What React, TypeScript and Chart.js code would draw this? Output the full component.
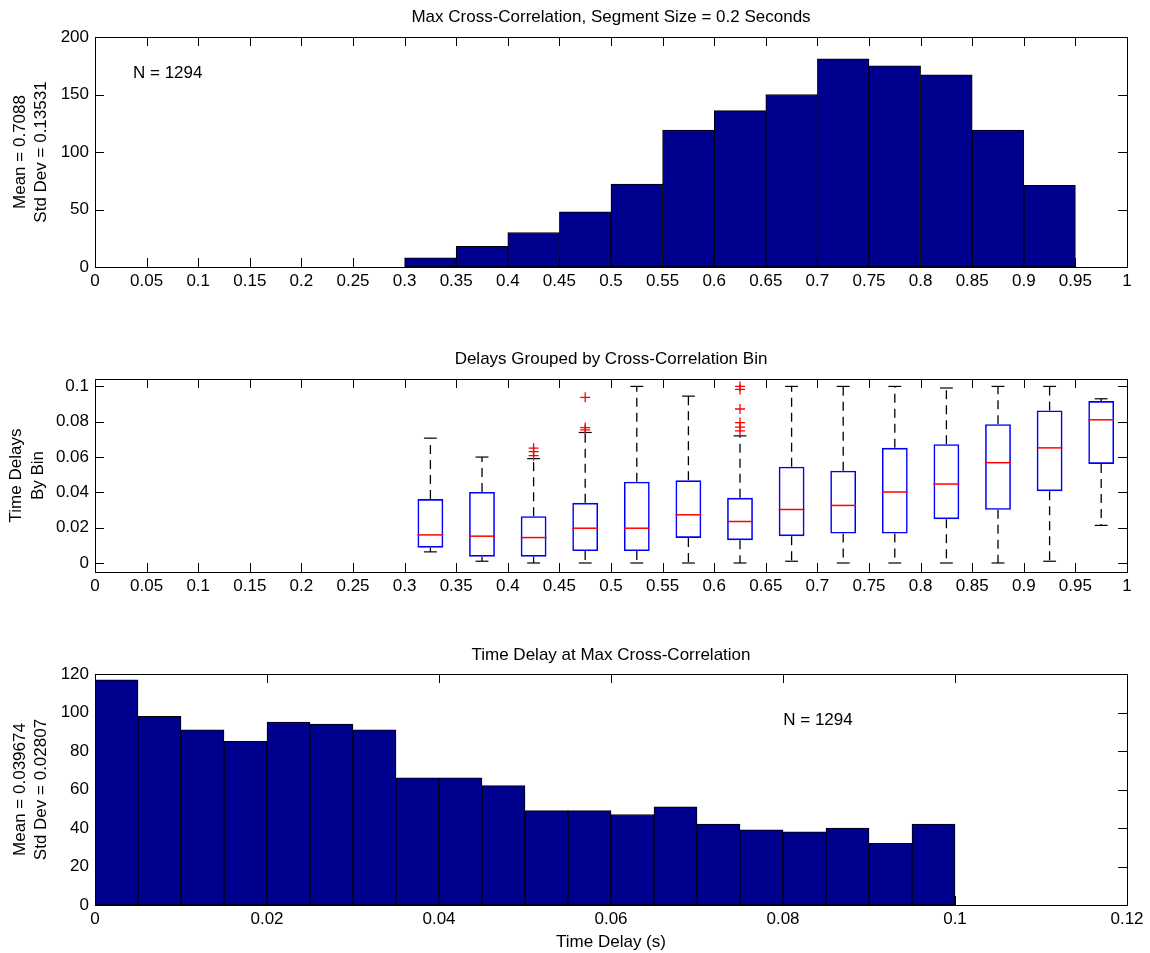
import React, { useEffect, useRef } from 'react';
import { Chart, registerables } from 'chart.js';

Chart.register(...registerables);

const FONT_FAMILY = '"Liberation Sans", Arial, Helvetica, sans-serif';
const FONT_SIZE = 17;
const INK = '#000000';
const BAR_FILL = '#00008F';
const BOX_BLUE = '#0000FF';
const MEDIAN_RED = '#FF0000';

const CANVAS_WIDTH = 1150;
const AREA_LEFT = 95;
const AREA_RIGHT = 1127;
const TICK_LEN = 9;

// ---------------- Panel 1: Max cross-correlation histogram ----------------
const corrTitle = 'Max Cross-Correlation, Segment Size = 0.2 Seconds';
const corrYLabel = ['Mean = 0.7088', 'Std Dev = 0.13531'];
const corrNote = 'N = 1294';
const corrBinWidth = 0.05;
const corrBinStarts = [0.3, 0.35, 0.4, 0.45, 0.5, 0.55, 0.6, 0.65, 0.7, 0.75, 0.8, 0.85, 0.9];
const corrCounts = [8, 18, 30, 48, 72, 119, 136, 150, 181, 175, 167, 119, 71];
const corrXTicks = [0, 0.05, 0.1, 0.15, 0.2, 0.25, 0.3, 0.35, 0.4, 0.45, 0.5, 0.55, 0.6, 0.65, 0.7, 0.75, 0.8, 0.85, 0.9, 0.95, 1];
const corrXTickLabels = ['0', '0.05', '0.1', '0.15', '0.2', '0.25', '0.3', '0.35', '0.4', '0.45', '0.5', '0.55', '0.6', '0.65', '0.7', '0.75', '0.8', '0.85', '0.9', '0.95', '1'];
const corrYTicks = [0, 50, 100, 150, 200];
const corrYTickLabels = ['0', '50', '100', '150', '200'];

// ---------------- Panel 2: Box plots of delays per correlation bin ----------------
const boxTitle = 'Delays Grouped by Cross-Correlation Bin';
const boxYLabel = ['Time Delays', 'By Bin'];
const boxWidth = 0.025;
const boxCenters = [0.325, 0.375, 0.425, 0.475, 0.525, 0.575, 0.625, 0.675, 0.725, 0.775, 0.825, 0.875, 0.925, 0.975];
const boxLower = [0.0063, 0.001, 0, 0, 0, 0, 0, 0.001, 0, 0, 0, 0, 0.001, 0.0213];
const boxQ1 = [0.0087, 0.0036, 0.0036, 0.0068, 0.0068, 0.0142, 0.0129, 0.0152, 0.0167, 0.0167, 0.0248, 0.0301, 0.0407, 0.0561];
const boxMedian = [0.0159, 0.0152, 0.0144, 0.0197, 0.0197, 0.0273, 0.0235, 0.0303, 0.0326, 0.0402, 0.0447, 0.0568, 0.0652, 0.0811];
const boxQ3 = [0.0362, 0.0402, 0.0265, 0.0341, 0.046, 0.0468, 0.0369, 0.0545, 0.0523, 0.0652, 0.0673, 0.0786, 0.0864, 0.0917];
const boxUpper = [0.0707, 0.06, 0.0591, 0.0739, 0.1, 0.0945, 0.072, 0.1, 0.1, 0.1, 0.0991, 0.1, 0.1, 0.093];
const outlierX = [0.425, 0.425, 0.425, 0.475, 0.475, 0.475, 0.625, 0.625, 0.625, 0.625, 0.625, 0.625];
const outlierY = [0.065, 0.0631, 0.0608, 0.0938, 0.0767, 0.0754, 0.1, 0.0983, 0.0872, 0.0795, 0.0769, 0.0748];
const boxXTicks = corrXTicks;
const boxXTickLabels = corrXTickLabels;
const boxYMin = -0.0051;
const boxYMax = 0.1042;
const boxYTicks = [0, 0.02, 0.04, 0.06, 0.08, 0.1];
const boxYTickLabels = ['0', '0.02', '0.04', '0.06', '0.08', '0.1'];

// ---------------- Panel 3: Time delay histogram ----------------
const delayTitle = 'Time Delay at Max Cross-Correlation';
const delayYLabel = ['Mean = 0.039674', 'Std Dev = 0.02807'];
const delayXLabel = 'Time Delay (s)';
const delayNote = 'N = 1294';
const delayBinWidth = 0.005;
const delayBinStarts = [0, 0.005, 0.01, 0.015, 0.02, 0.025, 0.03, 0.035, 0.04, 0.045, 0.05, 0.055, 0.06, 0.065, 0.07, 0.075, 0.08, 0.085, 0.09, 0.095];
const delayCounts = [117, 98, 91, 85, 95, 94, 91, 66, 66, 62, 49, 49, 47, 51, 42, 39, 38, 40, 32, 42];
const delayXTicks = [0, 0.02, 0.04, 0.06, 0.08, 0.1, 0.12];
const delayXTickLabels = ['0', '0.02', '0.04', '0.06', '0.08', '0.1', '0.12'];
const delayYTicks = [0, 20, 40, 60, 80, 100, 120];
const delayYTickLabels = ['0', '20', '40', '60', '80', '100', '120'];

// ---------------- helpers ----------------
type PanelSpec = {
  canvasHeight: number;
  areaTop: number;
  areaBottom: number;
  xMin: number;
  xMax: number;
  yMin: number;
  yMax: number;
  xTicks: number[];
  xTickLabels: string[];
  yTicks: number[];
  yTickLabels: string[];
};

type TextItem = {
  text: string;
  x: number | ((ca: any) => number);
  y: number | ((ca: any) => number);
  align?: CanvasTextAlign;
  rotate?: boolean;
};

function scalesFor(spec: PanelSpec) {
  const tickFont = { family: FONT_FAMILY, size: FONT_SIZE };
  return {
    x: {
      type: 'linear',
      min: spec.xMin,
      max: spec.xMax,
      offset: false,
      grid: { display: false, drawTicks: false },
      border: { display: false },
      ticks: {
        color: INK,
        font: tickFont,
        padding: 4,
        autoSkip: false,
        maxRotation: 0,
        minRotation: 0,
        callback: (_v: any, i: number) => spec.xTickLabels[i],
      },
      afterBuildTicks: (s: any) => {
        s.ticks = spec.xTicks.map((v) => ({ value: v }));
      },
      afterFit: (s: any) => {
        s.height = spec.canvasHeight - spec.areaBottom;
      },
    },
    y: {
      type: 'linear',
      min: spec.yMin,
      max: spec.yMax,
      grid: { display: false, drawTicks: false },
      border: { display: false },
      ticks: {
        color: INK,
        font: tickFont,
        padding: 6,
        autoSkip: false,
        callback: (_v: any, i: number) => spec.yTickLabels[i],
      },
      afterBuildTicks: (s: any) => {
        s.ticks = spec.yTicks.map((v) => ({ value: v }));
      },
      afterFit: (s: any) => {
        s.width = AREA_LEFT;
      },
    },
  };
}

function layoutFor(spec: PanelSpec) {
  return { padding: { top: spec.areaTop, right: CANVAS_WIDTH - AREA_RIGHT, left: 0, bottom: 0 } };
}

function framePlugin(spec: PanelSpec) {
  return {
    id: 'matlabFrame',
    beforeDatasetsDraw(chart: any) {
      const { ctx, chartArea: ca, scales } = chart;
      ctx.save();
      ctx.strokeStyle = INK;
      ctx.lineWidth = 1;
      ctx.beginPath();
      spec.xTicks.forEach((v) => {
        const px = Math.round(scales.x.getPixelForValue(v)) + 0.5;
        ctx.moveTo(px, ca.bottom);
        ctx.lineTo(px, ca.bottom - TICK_LEN);
        ctx.moveTo(px, ca.top);
        ctx.lineTo(px, ca.top + TICK_LEN);
      });
      spec.yTicks.forEach((v) => {
        const py = Math.round(scales.y.getPixelForValue(v)) + 0.5;
        ctx.moveTo(ca.left, py);
        ctx.lineTo(ca.left + TICK_LEN, py);
        ctx.moveTo(ca.right, py);
        ctx.lineTo(ca.right - TICK_LEN, py);
      });
      ctx.stroke();
      ctx.restore();
    },
    afterDatasetsDraw(chart: any) {
      const { ctx, chartArea: ca } = chart;
      ctx.save();
      ctx.strokeStyle = INK;
      ctx.lineWidth = 1;
      ctx.strokeRect(
        Math.round(ca.left) + 0.5,
        Math.round(ca.top) + 0.5,
        Math.round(ca.right - ca.left),
        Math.round(ca.bottom - ca.top)
      );
      ctx.restore();
    },
  };
}

function textPlugin(items: TextItem[]) {
  return {
    id: 'panelTexts',
    afterDraw(chart: any) {
      const { ctx, chartArea: ca } = chart;
      ctx.save();
      ctx.font = `${FONT_SIZE}px ${FONT_FAMILY}`;
      ctx.fillStyle = INK;
      ctx.textBaseline = 'middle';
      items.forEach((t) => {
        const x = typeof t.x === 'function' ? t.x(ca) : t.x;
        const y = typeof t.y === 'function' ? t.y(ca) : t.y;
        ctx.save();
        ctx.translate(x, y);
        if (t.rotate) ctx.rotate(-Math.PI / 2);
        ctx.textAlign = t.align || 'center';
        ctx.fillText(t.text, 0, 0);
        ctx.restore();
      });
      ctx.restore();
    },
  };
}

const centerX = (ca: any) => (ca.left + ca.right) / 2;
const centerY = (ca: any) => (ca.top + ca.bottom) / 2;

function yLabelItems(lines: string[], x1 = 20, x2 = 41): TextItem[] {
  return [
    { text: lines[0], x: x1, y: centerY, rotate: true },
    { text: lines[1], x: x2, y: centerY, rotate: true },
  ];
}

const commonOptions = {
  responsive: false,
  animation: false,
  events: [],
  plugins: { legend: { display: false }, tooltip: { enabled: false }, title: { display: false } },
};

// ---------------- chart builders ----------------
function buildCorrChart() {
  const spec: PanelSpec = {
    canvasHeight: 310,
    areaTop: 37,
    areaBottom: 267,
    xMin: 0,
    xMax: 1,
    yMin: 0,
    yMax: 200,
    xTicks: corrXTicks,
    xTickLabels: corrXTickLabels,
    yTicks: corrYTicks,
    yTickLabels: corrYTickLabels,
  };
  return {
    type: 'bar',
    data: {
      datasets: [
        {
          label: 'count',
          data: corrBinStarts.map((s, i) => ({ x: s + corrBinWidth / 2, y: corrCounts[i] })),
          backgroundColor: BAR_FILL,
          borderColor: INK,
          borderWidth: 1,
          borderSkipped: false,
          barPercentage: 1,
          categoryPercentage: 1,
        },
      ],
    },
    options: { ...commonOptions, layout: layoutFor(spec), scales: scalesFor(spec) },
    plugins: [
      framePlugin(spec),
      textPlugin([
        { text: corrTitle, x: centerX, y: (ca: any) => ca.top - 20 },
        { text: corrNote, x: 133, y: 73, align: 'left' },
        ...yLabelItems(corrYLabel),
      ]),
    ],
  };
}

function buildBoxChart() {
  const spec: PanelSpec = {
    canvasHeight: 320,
    areaTop: 69,
    areaBottom: 262,
    xMin: 0,
    xMax: 1,
    yMin: boxYMin,
    yMax: boxYMax,
    xTicks: boxXTicks,
    xTickLabels: boxXTickLabels,
    yTicks: boxYTicks,
    yTickLabels: boxYTickLabels,
  };
  const halfPx = (chart: any, frac: number) => {
    const s = chart.scales.x;
    if (!s) return 5;
    return Math.abs(s.getPixelForValue(boxWidth * frac) - s.getPixelForValue(0));
  };
  const whiskers: any[] = [];
  const caps: any[] = [];
  boxCenters.forEach((x, i) => {
    whiskers.push({ x, y: boxQ3[i] }, { x, y: boxUpper[i] }, { x, y: null });
    whiskers.push({ x, y: boxQ1[i] }, { x, y: boxLower[i] }, { x, y: null });
    caps.push({ x, y: boxUpper[i] }, { x, y: boxLower[i] });
  });
  return {
    type: 'bar',
    data: {
      datasets: [
        {
          type: 'scatter',
          label: 'outliers',
          data: outlierX.map((x, i) => ({ x, y: outlierY[i] })),
          pointStyle: 'cross',
          pointRadius: 5,
          pointBorderColor: MEDIAN_RED,
          pointBorderWidth: 1.3,
          order: 0,
        },
        {
          type: 'scatter',
          label: 'median',
          data: boxCenters.map((x, i) => ({ x, y: boxMedian[i] })),
          pointStyle: 'line',
          pointRadius: (ctx: any) => halfPx(ctx.chart, 0.5),
          pointBorderColor: MEDIAN_RED,
          pointBorderWidth: 1.5,
          order: 1,
        },
        {
          type: 'bar',
          label: 'box',
          data: boxCenters.map((x, i) => ({ x, y: [boxQ1[i], boxQ3[i]] })),
          backgroundColor: 'rgba(0,0,0,0)',
          borderColor: BOX_BLUE,
          borderWidth: 1.6,
          borderSkipped: false,
          barPercentage: 0.5,
          categoryPercentage: 1,
          order: 2,
        },
        {
          type: 'line',
          label: 'whiskers',
          data: whiskers,
          borderColor: INK,
          borderWidth: 1.3,
          borderDash: [9, 6],
          pointRadius: 0,
          spanGaps: false,
          fill: false,
          order: 3,
        },
        {
          type: 'scatter',
          label: 'caps',
          data: caps,
          pointStyle: 'line',
          pointRadius: (ctx: any) => halfPx(ctx.chart, 0.25),
          pointBorderColor: INK,
          pointBorderWidth: 1.2,
          order: 4,
        },
      ],
    },
    options: { ...commonOptions, layout: layoutFor(spec), scales: scalesFor(spec) },
    plugins: [
      framePlugin(spec),
      textPlugin([{ text: boxTitle, x: centerX, y: (ca: any) => ca.top - 20 }, ...yLabelItems(boxYLabel, 16, 38)]),
    ],
  };
}

function buildDelayChart() {
  const spec: PanelSpec = {
    canvasHeight: 323,
    areaTop: 44,
    areaBottom: 275,
    xMin: 0,
    xMax: 0.12,
    yMin: 0,
    yMax: 120,
    xTicks: delayXTicks,
    xTickLabels: delayXTickLabels,
    yTicks: delayYTicks,
    yTickLabels: delayYTickLabels,
  };
  return {
    type: 'bar',
    data: {
      datasets: [
        {
          label: 'count',
          data: delayBinStarts.map((s, i) => ({ x: s + delayBinWidth / 2, y: delayCounts[i] })),
          backgroundColor: BAR_FILL,
          borderColor: INK,
          borderWidth: 1,
          borderSkipped: false,
          barPercentage: 1,
          categoryPercentage: 1,
        },
      ],
    },
    options: { ...commonOptions, layout: layoutFor(spec), scales: scalesFor(spec) },
    plugins: [
      framePlugin(spec),
      textPlugin([
        { text: delayTitle, x: centerX, y: (ca: any) => ca.top - 19 },
        { text: delayNote, x: 818, y: 90 },
        { text: delayXLabel, x: centerX, y: (ca: any) => ca.bottom + 37 },
        ...yLabelItems(delayYLabel),
      ]),
    ],
  };
}

function Panel({ top, height, build }: { top: number; height: number; build: () => any }) {
  const ref = useRef<HTMLCanvasElement>(null);
  useEffect(() => {
    if (!ref.current) return;
    const chart = new Chart(ref.current, build());
    return () => chart.destroy();
  }, [build]);
  return (
    <canvas
      ref={ref}
      width={CANVAS_WIDTH}
      height={height}
      style={{ position: 'absolute', left: 0, top, width: CANVAS_WIDTH, height, display: 'block' }}
    />
  );
}

export default function App() {
  return (
    <div style={{ position: 'absolute', left: 0, top: 0, width: CANVAS_WIDTH, height: 953, background: '#ffffff' }}>
      <Panel top={0} height={310} build={buildCorrChart} />
      <Panel top={310} height={320} build={buildBoxChart} />
      <Panel top={630} height={323} build={buildDelayChart} />
    </div>
  );
}
